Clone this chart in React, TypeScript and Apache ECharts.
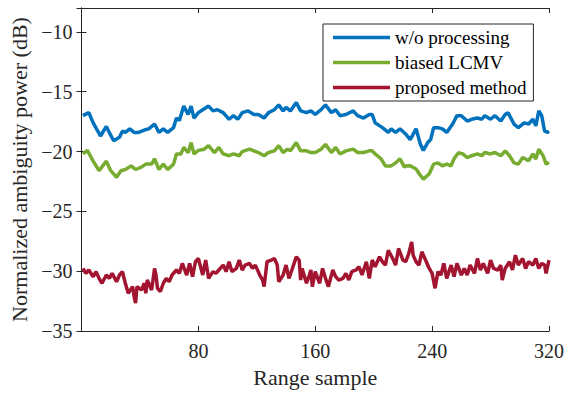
import React, { useEffect, useRef } from "react";
import * as echarts from "echarts";

const xTicks = [0, 80, 160, 240, 320];
const yTicks = [-35, -30, -25, -20, -15, -10];

const blueX = [1, 5, 8, 13, 17, 19, 22, 26, 28, 30, 33, 36, 39, 43, 46, 50, 53, 56, 59, 63, 65, 67, 70, 73, 75, 77, 80, 83, 87, 90, 93, 97, 101, 104, 107, 110, 114, 118, 121, 125, 128, 132, 135, 138, 140, 143, 147, 150, 154, 157, 160, 164, 167, 171, 174, 177, 181, 186, 189, 193, 197, 199, 201, 206, 210, 212, 215, 218, 222, 225, 229, 232, 234, 237, 239, 241, 244, 247, 250, 254, 257, 260, 264, 267, 271, 274, 276, 280, 283, 287, 290, 292, 296, 299, 303, 306, 309, 311, 313, 315, 317, 319, 320];
const blueY = [-17.0, -16.75, -17.6, -18.7, -17.9, -18.4, -19.1, -18.8, -18.3, -18.4, -18.1, -18.4, -18.4, -18.2, -18.1, -17.7, -18.4, -18.1, -18.4, -18.0, -17.2, -17.4, -16.2, -16.9, -16.2, -17.2, -16.75, -16.5, -16.2, -16.6, -16.5, -16.75, -17.3, -17.0, -17.3, -16.75, -16.6, -16.9, -16.9, -17.2, -16.75, -16.5, -16.1, -16.6, -16.3, -16.6, -15.9, -16.6, -16.75, -16.6, -16.9, -16.5, -16.1, -16.75, -16.5, -17.0, -16.9, -16.6, -17.0, -17.2, -16.9, -16.9, -17.6, -18.0, -18.4, -18.1, -18.4, -18.1, -18.55, -19.0, -18.1, -19.4, -19.9, -19.25, -19.0, -18.0, -18.0, -18.1, -18.4, -17.7, -17.0, -17.0, -17.45, -17.3, -17.2, -17.3, -17.0, -17.3, -17.0, -17.45, -16.9, -16.75, -17.7, -18.0, -17.6, -17.7, -17.3, -17.85, -16.6, -17.0, -18.3, -18.4, -18.3];

const greenX = [1, 4, 8, 12, 17, 20, 24, 27, 30, 34, 37, 41, 44, 48, 50, 53, 56, 59, 63, 65, 68, 70, 73, 75, 77, 80, 84, 87, 91, 94, 97, 101, 104, 108, 110, 115, 118, 121, 125, 128, 132, 135, 138, 141, 143, 147, 150, 154, 157, 160, 164, 167, 171, 174, 177, 181, 186, 189, 193, 197, 199, 201, 205, 208, 212, 215, 218, 221, 222, 225, 229, 232, 234, 238, 241, 244, 247, 250, 253, 255, 258, 261, 264, 267, 271, 274, 276, 280, 283, 287, 290, 293, 296, 299, 302, 306, 309, 311, 313, 316, 318, 320];
const greenY = [-20.2, -19.9, -20.8, -21.6, -20.8, -21.6, -22.15, -21.6, -21.5, -21.2, -21.5, -21.3, -21.05, -21.05, -20.6, -21.5, -21.05, -21.5, -21.05, -20.2, -20.2, -19.65, -20.1, -19.25, -20.2, -19.9, -19.8, -19.5, -20.1, -19.65, -20.2, -20.35, -20.2, -20.35, -20.0, -19.8, -19.94, -20.08, -20.35, -20.08, -19.94, -19.5, -20.08, -19.8, -19.94, -19.25, -19.94, -19.94, -20.08, -20.08, -19.8, -19.4, -20.08, -19.66, -20.2, -19.94, -19.8, -20.08, -20.08, -19.94, -19.94, -20.2, -20.6, -21.2, -21.2, -20.95, -20.6, -21.3, -21.2, -21.19, -21.46, -22.0, -22.3, -21.88, -21.05, -20.95, -21.19, -21.05, -21.19, -20.6, -20.1, -20.2, -20.5, -20.35, -20.2, -20.35, -20.08, -20.2, -20.08, -20.35, -19.94, -20.35, -20.95, -21.05, -20.5, -20.77, -20.2, -20.63, -19.8, -20.35, -21.05, -20.9];

const redX = [1, 3, 5, 8, 10, 12, 14, 17, 19, 21, 24, 26, 28, 30, 32, 35, 36, 37, 38, 41, 43, 44, 45, 48, 50, 51, 52, 54, 56, 58, 60, 62, 65, 67, 69, 72, 74, 76, 78, 80, 83, 85, 87, 90, 92, 94, 97, 99, 101, 103, 106, 108, 110, 112, 115, 117, 119, 122, 124, 125, 127, 130, 132, 134, 135, 138, 140, 142, 144, 147, 149, 150, 151, 154, 156, 157, 158, 160, 163, 165, 167, 169, 172, 174, 176, 179, 181, 183, 185, 188, 190, 192, 195, 197, 199, 201, 204, 206, 208, 210, 213, 215, 217, 220, 222, 224, 226, 227, 229, 231, 233, 236, 238, 240, 242, 244, 246, 248, 250, 253, 255, 257, 260, 262, 264, 266, 269, 271, 273, 275, 278, 280, 282, 285, 287, 288, 290, 293, 295, 297, 299, 302, 304, 306, 309, 311, 313, 315, 317, 318, 320];
const redY = [-29.77, -30.18, -29.9, -30.46, -30.04, -30.6, -31.01, -30.32, -30.6, -30.18, -30.88, -30.32, -30.04, -31.01, -31.84, -31.29, -32.12, -32.67, -31.29, -31.57, -31.01, -31.84, -30.74, -31.57, -29.77, -30.32, -31.43, -31.7, -31.01, -30.6, -30.88, -30.32, -29.9, -30.18, -29.35, -30.32, -29.35, -30.46, -29.21, -28.94, -30.32, -29.07, -30.6, -30.04, -30.18, -29.9, -29.49, -30.04, -29.21, -30.04, -29.77, -29.07, -29.9, -29.49, -29.35, -29.77, -29.49, -30.32, -30.74, -31.29, -29.21, -29.07, -28.94, -29.49, -30.88, -30.32, -29.49, -30.6, -29.9, -28.8, -29.07, -30.74, -29.77, -31.01, -30.32, -29.9, -31.29, -30.04, -31.01, -29.77, -30.6, -31.29, -29.9, -30.46, -30.74, -30.6, -30.18, -30.74, -30.04, -29.9, -29.63, -30.32, -29.21, -30.6, -29.07, -29.63, -28.8, -29.21, -29.49, -28.25, -28.94, -29.49, -28.1, -29.07, -29.21, -28.52, -27.55, -28.66, -29.21, -29.49, -28.38, -29.21, -29.77, -30.18, -31.43, -30.04, -30.32, -29.35, -30.6, -29.49, -30.46, -29.35, -30.32, -29.77, -30.32, -29.49, -30.18, -28.94, -29.9, -29.35, -30.18, -29.07, -29.77, -29.9, -29.49, -30.74, -29.77, -29.21, -29.9, -28.66, -29.49, -28.94, -29.77, -29.21, -29.49, -28.94, -29.77, -29.35, -29.49, -30.18, -29.07];

const seriesNames = ["w/o processing", "biased LCMV", "proposed method"];
const seriesColors = ["#0072BD", "#77AC30", "#A2142F"];

const FONT = "'Liberation Serif', 'Times New Roman', serif";
const AX = "#262626";

function pairs(xs: number[], ys: number[]) {
  return xs.map((x, i) => [x, ys[i]]);
}

export default function App() {
  const ref = useRef<HTMLDivElement>(null);
  useEffect(() => {
    if (!ref.current) return;
    const chart = echarts.init(ref.current, undefined, { renderer: "svg" });
    const axisLine = { show: true, lineStyle: { color: AX, width: 1 } };
    const tick = { show: true, inside: true, length: 5, lineStyle: { color: AX, width: 1 } };
    const fmt = (v: number) => String(v).replace("-", "\u2212");
    const mk = (i: number, xs: number[], ys: number[], w: number) => ({
      name: seriesNames[i], type: "line", symbol: "none", data: pairs(xs, ys),
      lineStyle: { color: seriesColors[i], width: w }, itemStyle: { color: seriesColors[i] },
    });
    chart.setOption({
      animation: false,
      backgroundColor: "#fff",
      grid: { left: 81.5, right: 19, top: 8, bottom: 63, containLabel: false },
      xAxis: [
        {
          type: "value", min: xTicks[0], max: xTicks[xTicks.length - 1], interval: 80, position: "bottom",
          axisLine, axisTick: tick, splitLine: { show: false },
          axisLabel: {
            fontFamily: FONT, fontSize: 20, color: AX, margin: 10,
            formatter: (v: number) => (v === 0 ? "" : fmt(v)),
          },
          name: "Range sample", nameLocation: "middle", nameGap: 35,
          nameTextStyle: { fontFamily: FONT, fontSize: 22, color: AX },
        },
        {
          type: "value", min: xTicks[0], max: xTicks[xTicks.length - 1], interval: 80, position: "top",
          axisLine, axisTick: tick, axisLabel: { show: false }, splitLine: { show: false },
        },
      ],
      yAxis: [
        {
          type: "value", min: yTicks[0], max: -8, interval: 5, position: "left",
          axisLine, axisTick: tick, splitLine: { show: false },
          axisLabel: {
            fontFamily: FONT, fontSize: 20, color: AX, margin: 9,
            formatter: (v: number) => (yTicks.includes(v) ? fmt(v) : ""),
          },
          name: "Normalized ambiguity power (dB)", nameLocation: "middle", nameGap: 47,
          nameTextStyle: { fontFamily: FONT, fontSize: 22, color: AX },
        },
        {
          type: "value", min: yTicks[0], max: -8, interval: 5, position: "right",
          axisLine, axisTick: tick, axisLabel: { show: false }, splitLine: { show: false },
        },
      ],
      legend: {
        orient: "vertical", left: 323, top: 24,
        icon: "rect", itemWidth: 57, itemHeight: 3.5, itemGap: 6,
        backgroundColor: "#fff", borderColor: AX, borderWidth: 1, borderRadius: 0,
        padding: [4, 7, 4, 10],
        textStyle: { fontFamily: FONT, fontSize: 19, color: "#000", lineHeight: 19, height: 19 },
        data: seriesNames,
      },
      series: [
        mk(0, blueX, blueY, 3.5),
        mk(1, greenX, greenY, 3.5),
        mk(2, redX, redY, 3.5),
      ],
    });
    return () => chart.dispose();
  }, []);
  return <div ref={ref} style={{ width: 568, height: 394, position: "absolute", left: 0, top: 0 }} />;
}
